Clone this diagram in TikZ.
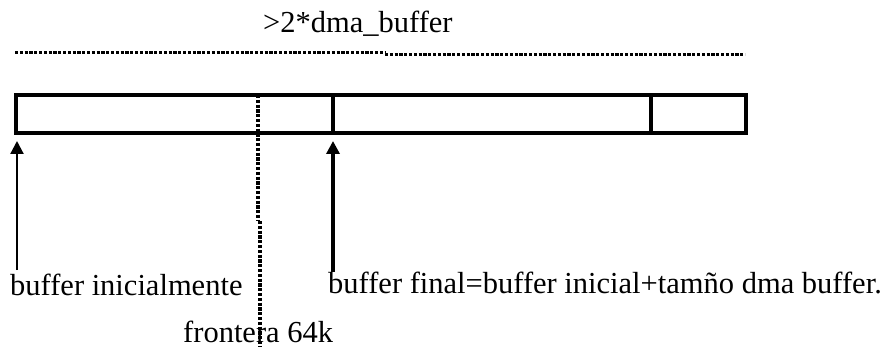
\documentclass[tikz,border=0pt]{standalone}
\usepackage{fontspec}
\setmainfont{Liberation Serif}
\usetikzlibrary{arrows.meta}
\begin{document}
\begin{tikzpicture}[x=1pt,y=-1pt,
  lbl/.style={anchor=base west,inner sep=0pt,font=\fontsize{30.5}{36}\selectfont},
  dotline/.style={line width=3.2pt,dash pattern=on 3.2pt off 1.6pt},
  cellbox/.style={line width=3.4pt},
  ptr/.style={-{Triangle[width=13pt,length=13pt]}}]
\useasboundingbox (0,0) rectangle (885,347);
% cells
\coordinate (r0t) at (16,95);
\coordinate (d1t) at (333,95);
\coordinate (d1b) at (333,133);
\coordinate (d2t) at (651,95);
\coordinate (d2b) at (651,133);
\coordinate (r1) at (746,133);
\draw[cellbox] (r0t) rectangle (r1);
\draw[cellbox] (d1t) -- (d1b);
\draw[cellbox] (d2t) -- (d2b);
% top dotted span
\coordinate (s0) at (15,52.5);
\coordinate (s1) at (385,52.5);
\coordinate (s2) at (385,54.5);
\coordinate (s3) at (745,54.5);
\draw[dotline] (s0) -- (s1);
\draw[dotline] (s2) -- (s3);
\node[lbl] (top) at (263,33) {>2*dma\_buffer};
% 64k boundary
\coordinate (f0) at (258,95);
\coordinate (f1) at (258,221);
\coordinate (f2) at (260,221);
\coordinate (f3) at (260,347);
\draw[dotline] (f0) -- (f1);
\draw[dotline] (f2) -- (f3);
% labels
\node[lbl] (ini) at (10,295) {buffer inicialmente};
\node[lbl] (fin) at (328,293) {buffer final=buffer inicial+tamño dma buffer.};
\node[lbl] (front) at (183,342) {frontera 64k};
% arrows
\coordinate (a0) at (17,270);
\coordinate (a1) at (17,141);
\coordinate (b0) at (333,272);
\coordinate (b1) at (333,141);
\draw[ptr,line width=2.2pt] (a0) -- (a1);
\draw[ptr,line width=4.2pt] (b0) -- (b1);
\end{tikzpicture}
\end{document}
